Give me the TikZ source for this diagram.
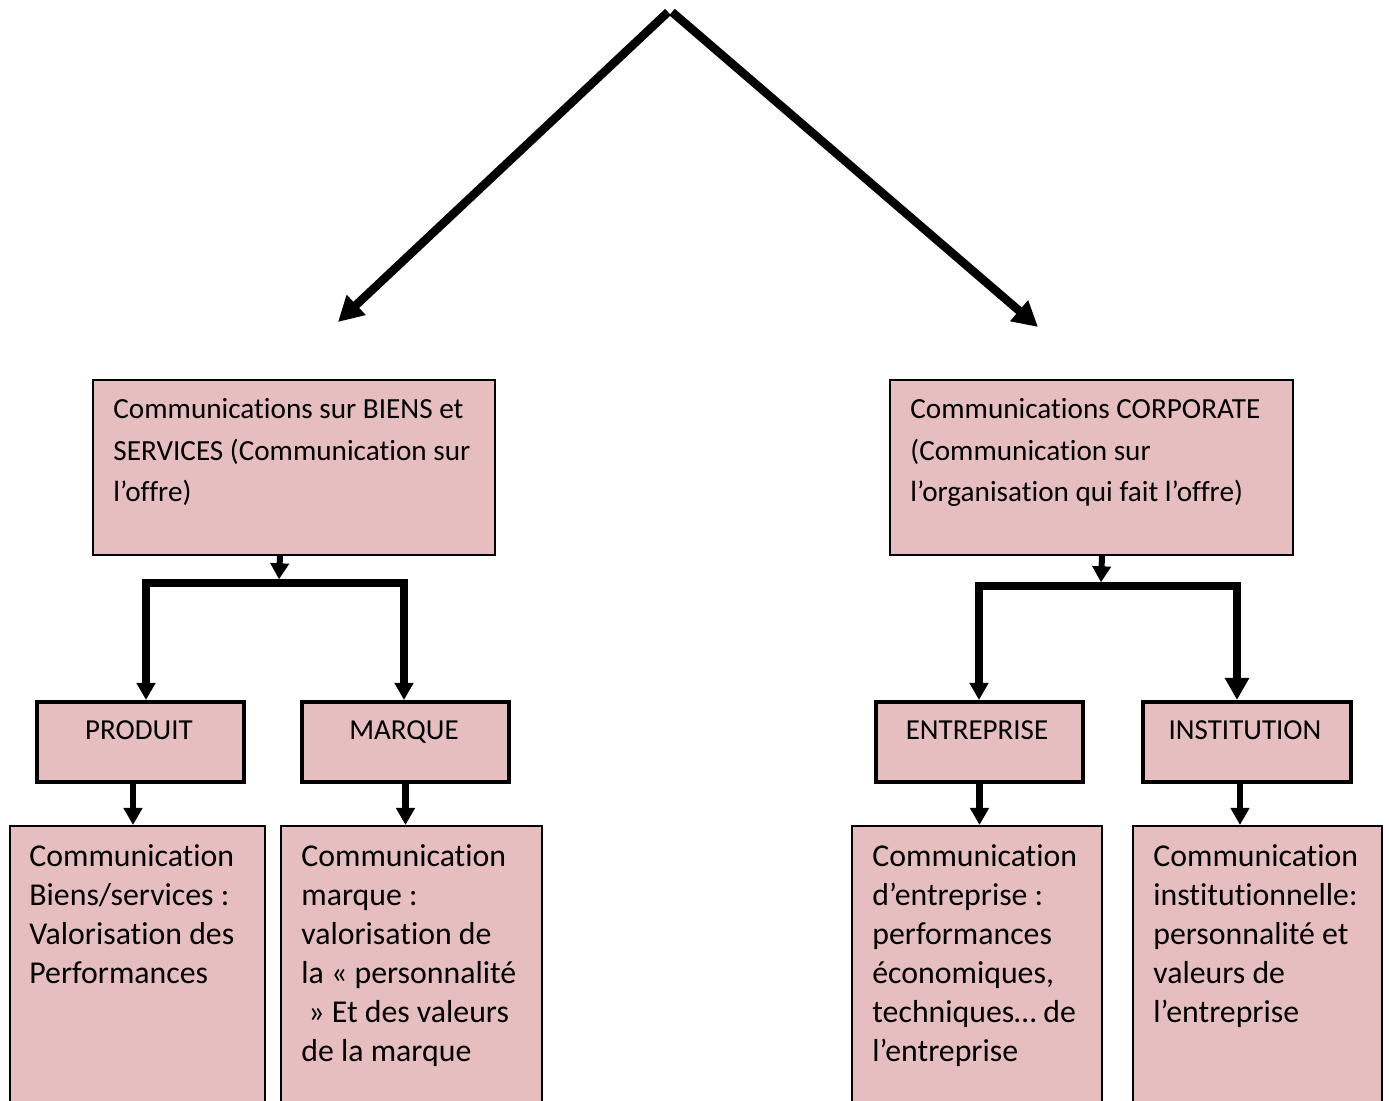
\documentclass[tikz,border=0pt]{standalone}
\usepackage{fontspec}
\setmainfont{Carlito}[Ligatures=NoCommon]
\usetikzlibrary{arrows.meta}
\definecolor{rose}{RGB}{230,190,191}

\begin{document}
\begin{tikzpicture}[x=0.5pt,y=-0.5pt,
  panel/.style={draw=black, fill=rose, line width=1pt, inner sep=0, anchor=north west},
  tag/.style={draw=black, fill=rose, line width=2pt, inner sep=0, anchor=north west,
              minimum width=103.5pt, minimum height=40pt},
  headtxt/.style={anchor=base west, inner sep=0, font=\fontsize{14.6pt}{20.75pt}\selectfont},
  tagtxt/.style={anchor=base, inner sep=0, font=\fontsize{14.5pt}{17pt}\selectfont},
  bodytxt/.style={anchor=base west, inner sep=0, font=\fontsize{15.9pt}{19.5pt}\selectfont},
  bigarrow/.style={line width=4.25pt, -{Triangle[length=12.5pt,width=13pt]}},
  feed/.style={line width=3pt, -{Triangle[length=8pt,width=9pt]}},
  branch/.style={line width=3.75pt, line join=miter},
  drop/.style={line width=3.25pt, -{Triangle[length=8.5pt,width=9pt]}}
]
\fill[white] (0,0) rectangle (1389,1101);
\clip (0,0) rectangle (1389,1101);

% top split
\coordinate (apex) at (670,12);
\coordinate (tipL) at (338,322);
\coordinate (tipR) at (1038,327);
\draw[bigarrow] ([xshift=-1pt]apex) -- (tipL);
\draw[bigarrow] ([xshift=1pt]apex) -- (tipR);

% second level
\node[panel, minimum width=201pt, minimum height=87.5pt] (biens) at (92,379) {};
\node[panel, minimum width=201.5pt, minimum height=87.5pt] (corp) at (889,379) {};
\node[headtxt] (biensT) at (113,419) {\parbox[t]{200pt}{\raggedright
  Communications sur BIENS et\\SERVICES (Communication sur\\l’offre)}};
\node[headtxt] (corpT) at (910,419) {\parbox[t]{200pt}{\raggedright
  Communications CORPORATE\\(Communication sur\\l’organisation qui fait l’offre)}};

% third level
\node[tag] (prod) at (35,700) {};
\node[tag] (marq) at (300,700) {};
\node[tag] (entr) at (874,700) {};
\node[tag, minimum width=104pt] (inst) at (1141,700) {};
\node[tagtxt] (prodT) at (139,740) {PRODUIT};
\node[tagtxt] (marqT) at (404,740) {MARQUE};
\node[tagtxt] (entrT) at (977,740) {ENTREPRISE};
\node[tagtxt] (instT) at (1245,740) {INSTITUTION};

% bottom level
\node[panel, minimum width=127.5pt, minimum height=160pt] (b1) at (9,825) {};
\node[panel, minimum width=130.5pt, minimum height=160pt] (b2) at (280,825) {};
\node[panel, minimum width=125pt, minimum height=160pt] (b3) at (851,825) {};
\node[panel, minimum width=124.5pt, minimum height=160pt] (b4) at (1132,825) {};
\node[bodytxt] (b1T) at (29,867) {\parbox[t]{130pt}{\raggedright
  Communication\\Biens/services :\\Valorisation des\\Performances}};
\node[bodytxt] (b2T) at (301,867) {\parbox[t]{130pt}{\raggedright
  Communication\\marque :\\valorisation de\\la « personnalité\\\hspace*{3.5pt}» Et des valeurs\\de la marque}};
\node[bodytxt] (b3T) at (872,867) {\parbox[t]{130pt}{\raggedright
  Communication\\d’entreprise :\\performances\\économiques,\\techniques… de\\l’entreprise}};
\node[bodytxt] (b4T) at (1153,867) {\parbox[t]{130pt}{\raggedright
  Communication\\institutionnelle:\\personnalité et\\valeurs de\\l’entreprise}};

% left fork
\coordinate (jA) at (279,583);
\coordinate (jl) at (146,583);
\coordinate (jr) at (404,583);
\draw[feed] ([xshift=-7pt]biens.south) -- ([yshift=1.85pt]jA);
\draw[branch, {Triangle[length=8.5pt,width=9pt]}-{Triangle[length=8.5pt,width=9pt]}]
  (jl |- prod.north) -- (jl) -- (jr) -- (jr |- marq.north);

% right fork
\coordinate (jB) at (1101,586);
\coordinate (jl2) at (979,586);
\coordinate (jr2) at (1237,586);
\draw[feed] ([xshift=5.25pt]corp.south) -- ([yshift=1.85pt]jB);
\draw[branch, line cap=rect, -{Triangle[length=8.5pt,width=9pt]}]
  (jr2) -- (jl2) -- (jl2 |- entr.north);
\draw[line width=4.25pt, line cap=rect, -{Triangle[length=11pt,width=11.5pt]}]
  (jr2) -- (jr2 |- inst.north);

% drops to the description panels
\draw[drop] ([xshift=-3.75pt]prod.south) -- ([xshift=-3.75pt]prod.south |- b1.north);
\draw[drop] (marq.south) -- (marq.south |- b2.north);
\draw[drop] (entr.south) -- (entr.south |- b3.north);
\draw[drop] ([xshift=-3.5pt]inst.south) -- ([xshift=-3.5pt]inst.south |- b4.north);
\end{tikzpicture}
\end{document}
